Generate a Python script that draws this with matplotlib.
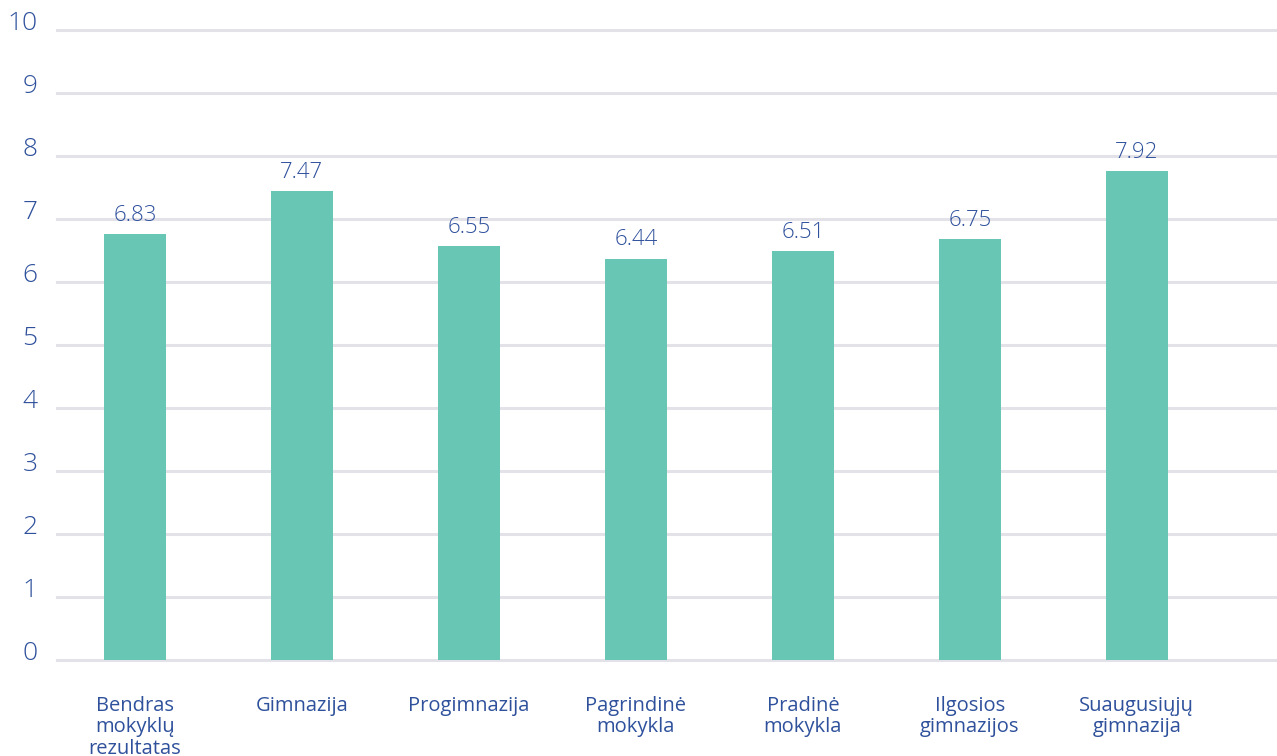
import matplotlib
matplotlib.use("Agg")
import matplotlib.pyplot as plt
import numpy as np

# Categories (Lithuanian school types)
categories = [
    "Bendras\nmokyklų\nrezultatas",
    "Gimnazija",
    "Progimnazija",
    "Pagrindinė\nmokykla",
    "Pradinė\nmokykla",
    "Ilgosios\ngimnazijos",
    "Suaugusiųjų\ngimnazija",
]
# printed value labels
score_labels = ["6.83", "7.47", "6.55", "6.44", "6.51", "6.75", "7.92"]
# bar heights as drawn in the reference
bar_heights = [6.76, 7.44, 6.57, 6.37, 6.49, 6.68, 7.76]
y_ticks = list(range(0, 11))

BAR_COLOR = "#68c6b5"
TEXT_COLOR = "#2f519c"
GRID_COLOR = "#e2e2e8"

plt.rcParams['font.family'] = ['Open Sans', 'DejaVu Sans']

fig = plt.figure(figsize=(12.77, 7.56), dpi=100)
ax = fig.add_axes([57 / 1277, 1 - 660 / 756, 1 - 57 / 1277, 630 / 756])

x = np.arange(len(categories))
bars = ax.bar(x, bar_heights, width=0.37, color=BAR_COLOR, zorder=2)

for xi, h, lab in zip(x, bar_heights, score_labels):
    ax.annotate(lab, (xi, h), xytext=(0, 6), textcoords="offset points",
                ha="center", va="bottom", fontsize=16, color=TEXT_COLOR,
                fontweight="light")

ax.set_xlim(-0.467, 6.84)
ax.set_ylim(0, 10)
ax.set_yticks(y_ticks)
ax.set_xticks(x)
ax.set_xticklabels(categories, fontsize=14.5, color=TEXT_COLOR, linespacing=1.08,
                   va="top")

# y labels sit a little above their gridlines
ax.set_yticklabels([str(v) for v in y_ticks], fontsize=19, color=TEXT_COLOR,
                   fontweight="light", va="baseline")

ax.tick_params(axis="x", length=0, pad=26)
ax.tick_params(axis="y", length=0, pad=14)

ax.grid(axis="y", color=GRID_COLOR, linewidth=2.2, zorder=1)
for ln in ax.get_ygridlines():
    ln.set_clip_on(False)
ax.set_axisbelow(True)
for s in ax.spines.values():
    s.set_visible(False)

fig.savefig("out.png", dpi=100)
